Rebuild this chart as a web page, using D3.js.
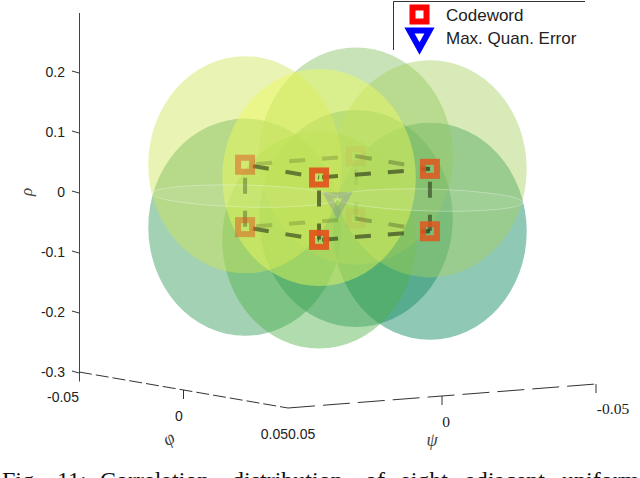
<!DOCTYPE html>
<html>
<head>
<meta charset="utf-8">
<script src="https://cdn.jsdelivr.net/npm/d3@7"></script>
<style>
  html, body { margin: 0; padding: 0; background: #fff; }
  svg { display: block; }
  text { font-family: "Liberation Sans", sans-serif; fill: #222; }
  .greek, .caption { font-family: "Liberation Serif", serif; }
</style>
</head>
<body>
<div id="chart"></div>
<script>
// eight codewords, in (phi, psi, rho)
const codePhi = [-0.0177, -0.0177, 0.0177, 0.0177, -0.0177, -0.0177, 0.0177, 0.0177];
const codePsi = [-0.018, 0.018, -0.018, 0.018, -0.018, 0.018, -0.018, 0.018];
const codeRho = [0.052, 0.052, 0.052, 0.052, -0.052, -0.052, -0.052, -0.052];
const sphereOrder = [4, 5, 6, 7, 0, 1, 2, 3];
const sphereColors = ['#85c161', '#cee456', '#a6d060', '#eefa58', '#1e8f65', '#339956', '#06855b', '#4fb14b'];
const edges = [[0, 1], [0, 2], [1, 3], [3, 2], [4, 5], [4, 6], [5, 7], [7, 6], [0, 4], [1, 5], [2, 6], [3, 7]];
const edgeOffsets = [15, 0, 25, 30, 15, 0, 25, 30, 20, 20, 20, 20];
const errorPoint = [0, 0, -0.008];
const sphereRadius = 0.026;
const sphereRadiusRho = 0.181;

const rhoTicks = [0.2, 0.1, 0, -0.1, -0.2, -0.3];
const rhoLabels = ['0.2', '0.1', '0', '-0.1', '-0.2', '-0.3'];
const legendLabels = ['Codeword', 'Max. Quan. Error'];
const captionWords = ['Fig.', '11:', 'Correlation', 'distribution', 'of', 'eight', 'adjacent', 'uniform'];
const captionStarts = [2, 57, 100, 232, 365, 400, 465, 562];

const width = 640;
const height = 478;

// oblique projection: each data axis adds its own pixel offset
const rhoY = d3.scaleLinear().domain([-0.3, 0.2]).range([372, 72]);
const phiX = d3.scaleLinear().domain([-0.05, 0.05]).range([0, 209]);
const phiY = d3.scaleLinear().domain([-0.05, 0.05]).range([0, 36]);
const psiX = d3.scaleLinear().domain([0.05, -0.05]).range([0, 308]);
const psiY = d3.scaleLinear().domain([0.05, -0.05]).range([0, -24]);

const project = function(phi, psi, rho) {
  return [79 + phiX(phi) + psiX(psi), rhoY(rho) + phiY(phi) + psiY(psi)];
};

// markers fade as they sit further behind the spheres
const depthOpacity = d3.scaleLinear().domain([-1, -0.24, 0.24, 1]).range([0.08, 0.5, 0.85, 0.95]);
const depthOf = i => (codePhi[i] / 0.0177 * 0.62 + codePsi[i] / 0.018 * 0.38);

const svg = d3.select('#chart')
  .append('svg')
  .attr('width', width)
  .attr('height', height);

// rho axis
svg.append('line')
  .attr('x1', 79.5).attr('x2', 79.5)
  .attr('y1', 13).attr('y2', 381.5)
  .style('stroke', '#444').style('stroke-width', 1);

const ticks = svg.selectAll('g.rho-tick')
  .data(rhoTicks)
  .enter()
  .append('g')
  .attr('class', 'rho-tick');

ticks.append('line')
  .attr('x1', 72).attr('x2', 79)
  .attr('y1', d => rhoY(d) - 1).attr('y2', d => rhoY(d) + 1)
  .style('stroke', '#333');

ticks.append('text')
  .attr('x', 65)
  .attr('y', d => rhoY(d))
  .attr('dy', '0.35em')
  .attr('text-anchor', 'end')
  .style('font-size', '14px')
  .text((d, i) => rhoLabels[i]);

// floor axes
const floorCorners = [
  project(-0.05, 0.05, -0.3),
  project(0.05, 0.05, -0.3),
  project(0.05, -0.05, -0.3)
];

[[0, 1, '13 4'], [1, 2, '27 8']].forEach(function(d) {
  svg.append('line')
    .attr('x1', floorCorners[d[0]][0]).attr('y1', floorCorners[d[0]][1])
    .attr('x2', floorCorners[d[1]][0]).attr('y2', floorCorners[d[1]][1])
    .style('stroke', '#333')
    .style('stroke-dasharray', d[2]);
});

[project(0, 0.05, -0.3), project(0.05, 0, -0.3), project(0.05, -0.05, -0.3)].forEach(function(p) {
  svg.append('line')
    .attr('x1', p[0]).attr('x2', p[0])
    .attr('y1', p[1]).attr('y2', p[1] + 9)
    .style('stroke', '#333');
});

const floorLabels = [
  [63, 397, '-0.05', 'sans'], [179, 416, '0', 'sans'], [288, 434, '0.050.05', 'sans'],
  [446, 422, '0', 'serif'], [613, 409, '-0.05', 'serif']
];

svg.selectAll('text.floor')
  .data(floorLabels)
  .enter()
  .append('text')
  .attr('class', d => 'floor' + (d[3] === 'serif' ? ' greek' : ''))
  .attr('x', d => d[0])
  .attr('y', d => d[1])
  .attr('dy', '0.35em')
  .attr('text-anchor', 'middle')
  .style('font-size', d => d[3] === 'serif' ? '15.5px' : '14px')
  .text(d => d[2]);

[[27, 192, 'ρ', -90, 17], [169, 439, 'φ', -30, 19], [432, 441, 'ψ', 0, 18]].forEach(function(d) {
  svg.append('text')
    .attr('class', 'greek')
    .attr('transform', 'translate(' + [d[0], d[1]] + ') rotate(' + d[3] + ')')
    .attr('dy', '0.3em')
    .attr('text-anchor', 'middle')
    .style('font-size', d[4] + 'px')
    .style('font-style', 'italic')
    .style('fill', '#444')
    .text(d[2]);
});

// spheres
const rx = Math.hypot(phiX(sphereRadius) - phiX(0), psiX(sphereRadius) - psiX(0));
const ry = rhoY(0) - rhoY(sphereRadiusRho);

svg.selectAll('ellipse.sphere')
  .data(sphereOrder)
  .enter()
  .append('ellipse')
  .attr('class', 'sphere')
  .attr('cx', i => project(codePhi[i], codePsi[i], codeRho[i])[0])
  .attr('cy', i => project(codePhi[i], codePsi[i], codeRho[i])[1])
  .attr('rx', rx)
  .attr('ry', ry)
  .style('fill', i => sphereColors[i])
  .style('fill-opacity', 0.45);

// seam where an upper and a lower sphere meet, only the outer two show
svg.selectAll('ellipse.seam')
  .data([1, 2])
  .enter()
  .append('ellipse')
  .attr('class', 'seam')
  .attr('transform', function(i) {
    const p = project(codePhi[i], codePsi[i], 0);
    return 'translate(' + p + ') rotate(1.5)';
  })
  .attr('rx', rx * 0.96)
  .attr('ry', 11)
  .style('fill', '#fff')
  .style('fill-opacity', 0.08)
  .style('stroke', '#fff')
  .style('stroke-opacity', 0.3);

// cube edges
svg.selectAll('line.edge')
  .data(edges)
  .enter()
  .append('line')
  .attr('class', 'edge')
  .attr('x1', d => project(codePhi[d[0]], codePsi[d[0]], codeRho[d[0]])[0])
  .attr('y1', d => project(codePhi[d[0]], codePsi[d[0]], codeRho[d[0]])[1])
  .attr('x2', d => project(codePhi[d[1]], codePsi[d[1]], codeRho[d[1]])[0])
  .attr('y2', d => project(codePhi[d[1]], codePsi[d[1]], codeRho[d[1]])[1])
  .style('stroke', '#2f3a1a')
  .style('stroke-width', 4)
  .style('stroke-dasharray', '16 17')
  .style('stroke-dashoffset', (d, i) => edgeOffsets[i])
  .style('stroke-opacity', d => depthOpacity((depthOf(d[0]) + depthOf(d[1])) / 2) * 0.72);

// error marker
const errorPos = project(errorPoint[0], errorPoint[1], errorPoint[2]);
const triangle = (cx, cy, r) => d3.line()([[cx - r, cy - r * 0.75], [cx + r, cy - r * 0.75], [cx, cy + r * 1.05]]) + 'Z';

svg.append('path')
  .attr('d', triangle(errorPos[0], errorPos[1], 10))
  .style('fill', 'none')
  .style('stroke', '#4a4ad0')
  .style('stroke-width', 6)
  .style('stroke-opacity', 0.2);

// codewords
svg.selectAll('rect.code')
  .data(d3.range(codePhi.length))
  .enter()
  .append('rect')
  .attr('class', 'code')
  .attr('x', i => project(codePhi[i], codePsi[i], codeRho[i])[0] - 7)
  .attr('y', i => project(codePhi[i], codePsi[i], codeRho[i])[1] - 7)
  .attr('width', 14)
  .attr('height', 14)
  .style('fill', 'none')
  .style('stroke', '#e0561e')
  .style('stroke-width', 6)
  .style('stroke-opacity', i => depthOpacity(depthOf(i)));

// legend
svg.append('path')
  .attr('d', d3.line()([[393.5, 50], [393.5, 1.5], [585, 1.5]]))
  .style('fill', 'none')
  .style('stroke', '#333');

svg.append('rect')
  .attr('x', 412.5).attr('y', 7.5)
  .attr('width', 14).attr('height', 14)
  .style('fill', 'none')
  .style('stroke', '#ff0000')
  .style('stroke-width', 6);

svg.append('path')
  .attr('d', triangle(419.5, 38, 10))
  .style('fill', 'none')
  .style('stroke', '#0000ff')
  .style('stroke-width', 6);

svg.selectAll('text.legend')
  .data(legendLabels)
  .enter()
  .append('text')
  .attr('class', 'legend')
  .attr('x', 446)
  .attr('y', (d, i) => 15 + i * 23.5)
  .attr('dy', '0.35em')
  .style('font-size', '17px')
  .text(d => d);

// caption, cropped by the bottom of the page
svg.selectAll('text.caption')
  .data(captionWords)
  .enter()
  .append('text')
  .attr('class', 'caption')
  .attr('x', (d, i) => captionStarts[i])
  .attr('y', 488)
  .style('font-size', '24px')
  .style('fill', '#111')
  .text(d => d);
</script>
</body>
</html>
